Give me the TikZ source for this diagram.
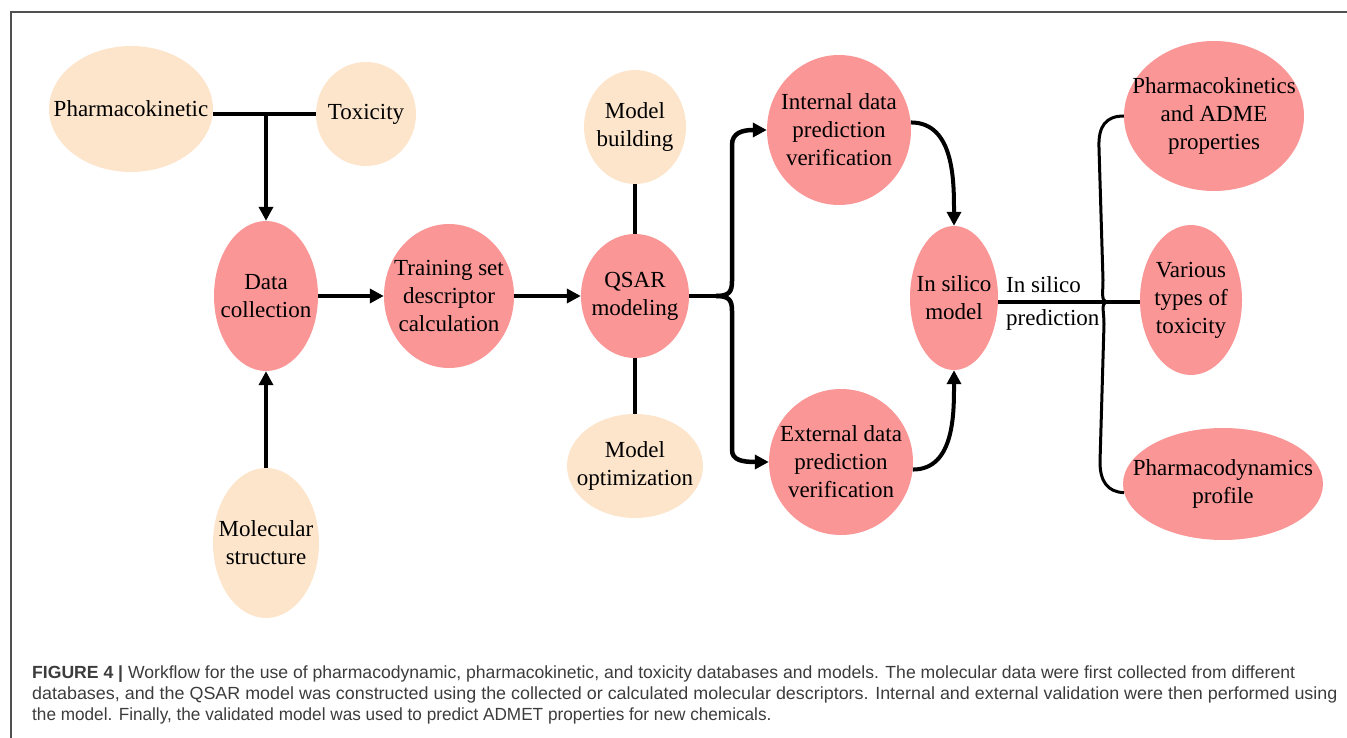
\documentclass[tikz,border=0pt]{standalone}
\usepackage{fontspec}
\usepackage{graphicx}
\setmainfont{Liberation Serif}
\newfontfamily\nodefont{Liberation Serif}
\newfontfamily\capfont{Liberation Sans}
\usetikzlibrary{shapes.geometric,arrows.meta}

\definecolor{pinkfill}{RGB}{250,150,150}
\definecolor{peachfill}{RGB}{253,229,204}
\definecolor{framegray}{RGB}{80,80,80}
\definecolor{captext}{RGB}{60,60,60}

\begin{document}
\begin{tikzpicture}[x=1pt,y=-1pt,
  blob/.style={ellipse, inner sep=0pt, draw=none},
  primary/.style={blob, fill=pinkfill},
  secondary/.style={blob, fill=peachfill},
  txt/.style={align=center, inner sep=0pt, font=\nodefont\fontsize{23}{28}\selectfont, text=black},
  conn/.style={line width=4.5pt, black},
  flow/.style={conn, -{Triangle[length=14pt,width=14pt]}},
  thinbrace/.style={line width=3pt, black},
  capline/.style={anchor=base west, inner sep=0pt, text=captext, font=\capfont\fontsize{17.6}{21}\selectfont}
]
\useasboundingbox (0,0) rectangle (1347,738);

% panel frame (left and top edges)
\draw[framegray, line width=1.5pt] (11,738) -- (11,12) -- (1347,12);

% ---- ellipses ----
\node[secondary, minimum width=164pt, minimum height=126pt] (pharm)  at (131,109) {};
\node[secondary, minimum width=100pt, minimum height=104pt] (tox)    at (366,114) {};
\node[primary,   minimum width=104pt, minimum height=150pt] (datac)  at (266,296) {};
\node[primary,   minimum width=130pt, minimum height=144pt] (train)  at (449,296) {};
\node[primary,   minimum width=108pt, minimum height=124pt] (qsar)   at (635,296) {};
\node[secondary, minimum width=106pt, minimum height=150pt] (molec)  at (266,543) {};
\node[secondary, minimum width=102pt, minimum height=114pt] (mbuild) at (635,127) {};
\node[secondary, minimum width=136pt, minimum height=104pt] (mopt)   at (635,466) {};
\node[primary,   minimum width=144pt, minimum height=150pt] (intern) at (839,130) {};
\node[primary,   minimum width=144pt, minimum height=146pt] (extern) at (841,462) {};
\node[primary,   minimum width=88pt,  minimum height=144pt] (insil)  at (954,298) {};
\node[primary,   minimum width=180pt, minimum height=150pt] (pkadme) at (1214,116) {};
\node[primary,   minimum width=102pt, minimum height=150pt] (various) at (1191,300) {};
\node[primary,   minimum width=200pt, minimum height=112pt] (pdprof) at (1223,484) {};

% ---- labels ----
\node[txt] (pharm-t)  at (pharm)  {Pharmacokinetic};
\node[txt] (tox-t)    at (tox)    {Toxicity};
\node[txt] (datac-t)  at (datac)  {Data\\collection};
\node[txt] (train-t)  at (train)  {Training set\\descriptor\\calculation};
\node[txt] (qsar-t)   at (qsar)   {QSAR\\modeling};
\node[txt] (molec-t)  at (molec)  {Molecular\\structure};
\node[txt] (mbuild-t) at (mbuild) {Model\\building};
\node[txt] (mopt-t)   at (mopt)   {Model\\optimization};
\node[txt] (intern-t) at (intern) {Internal data\\prediction\\verification};
\node[txt] (extern-t) at (extern) {External data\\prediction\\verification};
\node[txt] (insil-t)  at (insil)  {In silico\\model};
\node[txt] (pkadme-t) at (pkadme) {Pharmacokinetics\\and ADME\\properties};
\node[txt] (various-t) at (various) {Various\\types of\\toxicity};
\node[txt] (pdprof-t) at (pdprof) {Pharmacodynamics\\profile};

% ---- connectors ----
\coordinate (join) at (datac.north |- tox.west);
\draw[conn] (pharm.east |- tox.west) -- (tox.west);
\draw[flow] (join) -- (datac.north);
\draw[flow] (molec.north) -- (datac.south);
\draw[flow] (datac.east) -- (train.west);
\draw[flow] (train.east) -- (qsar.west);
\draw[conn] (mbuild.south) -- (qsar.north);
\draw[conn] (qsar.south) -- (mopt.north);

% split brace after QSAR modeling
\coordinate (cuspA) at (716,296);
\draw[conn] (qsar.east) -- (cuspA);
\draw[flow] (cuspA) .. controls (729,296) and (732,292) .. (732,281)
  -- (732,145) .. controls (732,133) and (742,130) .. (intern.west);
\draw[flow] (cuspA) .. controls (729,296) and (732,300) .. (732,311)
  -- (732,450) .. controls (732,460) and (742,462) .. (extern.west);

% validation results feeding the model
\draw[flow, line width=4pt] (intern.6) to[out=0,in=90] (insil.north);
\draw[flow, line width=4pt] (extern.-6) to[out=0,in=-90] (insil.south);

% prediction brace
\coordinate (cuspB) at (1106,302);
\draw[conn] (insil.east |- cuspB) -- (cuspB -| various.west);
\draw[thinbrace] (cuspB) .. controls (1101,300) and (1103,292) .. (1103,280)
  -- (1099,148) .. controls (1098,126) and (1106,116) .. (pkadme.west);
\draw[thinbrace] (cuspB) .. controls (1101,304) and (1104,312) .. (1104,324)
  -- (1100,462) .. controls (1100,482) and (1108,492) .. (pdprof.185);

\node[txt, anchor=west] (pred1) at (1006,285) {In silico};
\node[txt, anchor=west] (pred2) at (1006,320) {prediction};

% ---- caption ----
\node[capline] (cap1) at (32,678) {\textbf{FIGURE 4 |} Workflow for the use of pharmacodynamic, pharmacokinetic, and toxicity databases and models. The molecular data were first collected from different};
\node[capline] (cap2) at (32,699) {\scalebox{1.018}[1]{databases, and the QSAR model was constructed using the collected or calculated molecular descriptors. Internal and external validation were then performed using}};
\node[capline] (cap3) at (32,720) {\scalebox{0.976}[1]{the model. Finally, the validated model was used to predict ADMET properties for new chemicals.}};
\end{tikzpicture}
\end{document}
